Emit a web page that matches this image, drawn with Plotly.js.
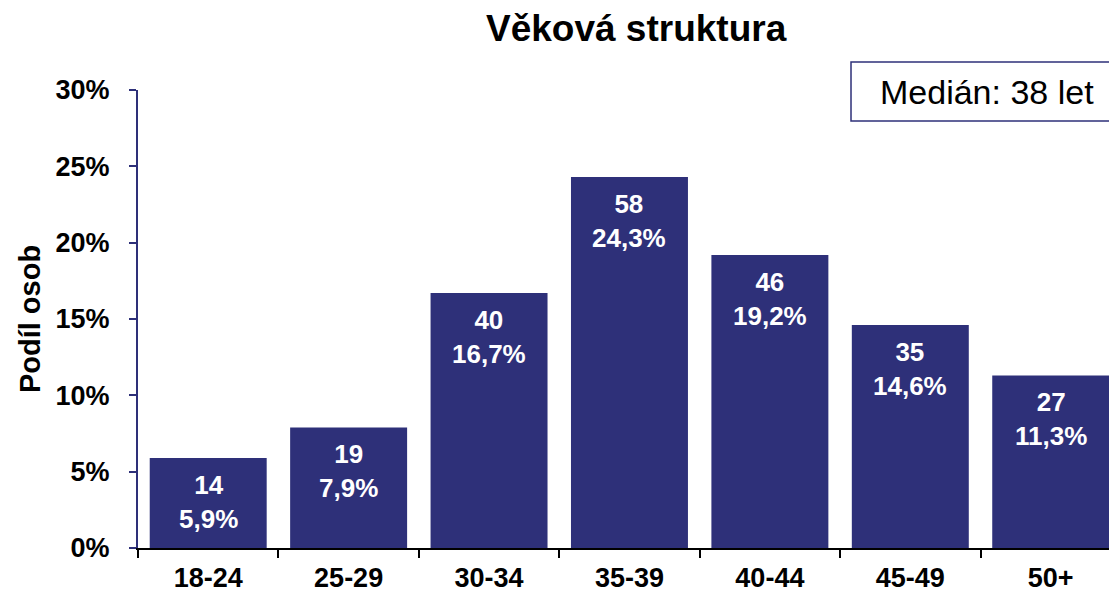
<!DOCTYPE html>
<html>
<head>
<meta charset="utf-8">
<script src="https://cdn.plot.ly/plotly-3.0.1.min.js"></script>
<style>html,body{margin:0;padding:0;background:#fff;}#chart{width:1109px;height:594px;}</style>
</head>
<body>
<div id="chart"></div>
<script>
const categories = ["18-24", "25-29", "30-34", "35-39", "40-44", "45-49", "50+"];
const counts = [14, 19, 40, 58, 46, 35, 27];
const shares = [5.9, 7.9, 16.7, 24.3, 19.2, 14.6, 11.3];
const yTickVals = [0, 5, 10, 15, 20, 25, 30];
const yTickText = ["0%", "5%", "10%", "15%", "20%", "25%", "30%"];
const medianText = "Medián: 38 let";

const navy = "#2E3079";
const FONT = "Liberation Sans, Arial, sans-serif";
const labels = counts.map((c, i) => "<b>" + c + "<br>" + shares[i].toFixed(1).replace(".", ",") + "%</b>");

const trace = {
  type: "bar",
  x: categories,
  y: shares,
  marker: {color: navy, line: {width: 0}},
  hoverinfo: "none"
};

const barLabels = categories.map((cat, i) => ({
  xref: "x", yref: "y", x: cat, y: shares[i],
  xanchor: "center", yanchor: "top", yshift: -10,
  showarrow: false, align: "center",
  text: labels[i],
  font: {family: FONT, size: 26, color: "#ffffff"}
}));

const layout = {
  width: 1109,
  height: 594,
  margin: {l: 138, r: 0, t: 90, b: 46},
  paper_bgcolor: "#ffffff",
  plot_bgcolor: "#ffffff",
  showlegend: false,
  bargap: 0.167,
  font: {family: FONT, color: "#000000"},
  title: {
    text: "<b>Věková struktura</b>",
    font: {size: 37, color: "#000000"},
    x: 0.513, xref: "paper", xanchor: "center",
    y: 0.953, yref: "container", yanchor: "middle"
  },
  xaxis: {
    type: "category",
    range: [-0.5, 6.415],
    showline: true, linecolor: "#000000", linewidth: 2,
    ticks: "outside", tickson: "boundaries", ticklen: 8, tickcolor: "#000000", tickwidth: 2,
    tickfont: {size: 27, weight: "bold", color: "#000000"},
    ticklabelstandoff: 5,
    showgrid: false, zeroline: false, fixedrange: true
  },
  yaxis: {
    range: [0, 30],
    tickvals: yTickVals, ticktext: yTickText,
    showline: true, linecolor: navy, linewidth: 2,
    ticks: "outside", ticklen: 7, tickcolor: navy, tickwidth: 2,
    tickfont: {size: 27, weight: "bold", color: "#000000"},
    ticklabelstandoff: 14,
    showgrid: false, zeroline: false, fixedrange: true,
    title: {text: "<b>Podíl osob</b>", font: {size: 29, color: "#000000"}, standoff: 6}
  },
  shapes: [{
    type: "rect", xref: "paper", yref: "paper",
    x0: 0.7343, x1: 1.05, y0: 0.9323, y1: 1.0611,
    line: {color: navy, width: 1.5}, fillcolor: "rgba(0,0,0,0)"
  }],
  annotations: barLabels.concat([{
    xref: "paper", yref: "paper", x: 0.874, y: 0.9967,
    xanchor: "center", yanchor: "middle", showarrow: false,
    text: medianText, font: {family: FONT, size: 34, color: "#000000"}
  }])
};

Plotly.newPlot("chart", [trace], layout, {displayModeBar: false, staticPlot: true});
</script>
</body>
</html>
